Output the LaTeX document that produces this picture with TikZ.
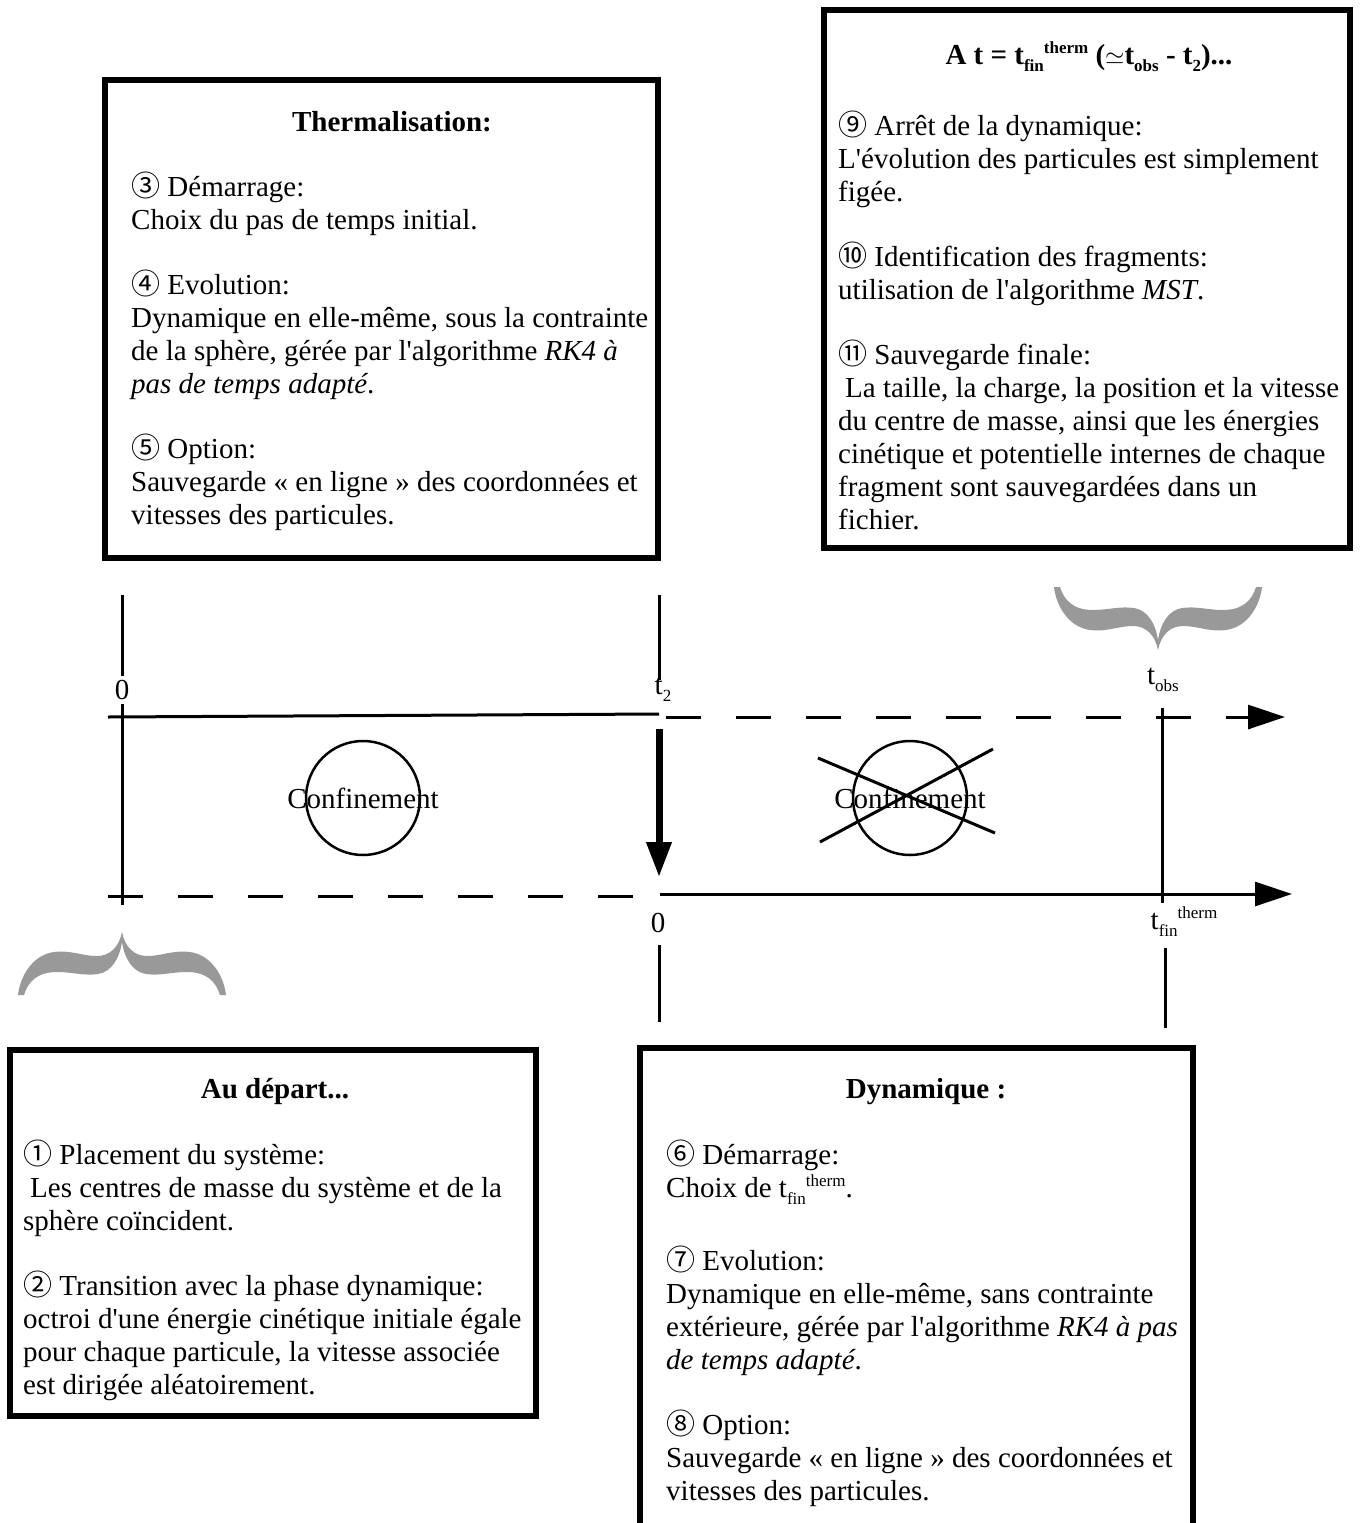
\documentclass[tikz,border=0pt]{standalone}
\usepackage{fontspec}
\setmainfont{Liberation Serif}[Ligatures=TeXOff]
\newfontfamily\cercle{Noto Sans CJK JP}
\usetikzlibrary{arrows.meta}

\newcommand{\etape}[1]{{\cercle #1}}
\newcommand{\indice}[1]{\raisebox{-7pt}{\fontsize{17}{17}\selectfont #1}}
\newcommand{\expo}[1]{\raisebox{11pt}{\fontsize{17}{17}\selectfont #1}}

\tikzset{
  cadre/.style={line width=6pt},
  titre/.style={anchor=base, inner sep=0pt, font=\bfseries\fontsize{29}{33}\selectfont},
  texte/.style={anchor=north west, inner sep=0pt, align=left, font=\fontsize{29}{33}\selectfont},
  etiquette/.style={inner sep=4pt, font=\fontsize{29}{33}\selectfont},
  axe/.style={line width=3pt},
  pointille/.style={axe, dash pattern=on 35pt off 35pt},
  fleche/.style={-{Triangle[length=37pt,width=24pt]}},
  accolade/.style={fill=black!40, draw=none}
}

\begin{document}
\begin{tikzpicture}[x=1pt,y=-1pt]

\useasboundingbox (0,0) rectangle (1362,1523);

% Cadres
\draw[cadre] (105,80) rectangle (658,558);
\draw[cadre] (824,10) rectangle (1350,548);
\draw[cadre] (10,1050) rectangle (536,1416);
\draw[cadre] (640,1048) rectangle (1193,1560);

% Thermalisation
\node[titre] (thermo) at (392,131) {Thermalisation:};
\node[texte] (thermo-txt) at (131,172) {\strut\etape{③} Démarrage:\\
Choix du pas de temps initial.\\[32pt]
\etape{④} Evolution:\\
Dynamique en elle-même, sous la contrainte\\
de la sphère, gérée par l'algorithme \textit{RK4 à}\\
\textit{pas de temps adapté}.\\[32pt]
\etape{⑤} Option:\\
Sauvegarde « en ligne » des coordonnées et\\
vitesses des particules.};

% Fin de la dynamique
\node[titre] (fin) at (1089,64) {A t = t\indice{fin}\expo{therm} ($\simeq$t\indice{obs} - t\indice{2})...};
\node[texte] (fin-txt) at (838,111) {\strut\etape{⑨} Arrêt de la dynamique:\\
L'évolution des particules est simplement\\
figée.\\[32pt]
\etape{⑩} Identification des fragments:\\
utilisation de l'algorithme \textit{MST}.\\[32pt]
\etape{⑪} Sauvegarde finale:\\
\hspace*{7pt}La taille, la charge, la position et la vitesse\\
du centre de masse, ainsi que les énergies\\
cinétique et potentielle internes de chaque\\
fragment sont sauvegardées dans un\\
fichier.};

% Au depart
\node[titre] (depart) at (275,1098) {Au départ...};
\node[texte] (depart-txt) at (23,1140) {\strut\etape{①} Placement du système:\\
\hspace*{7pt}Les centres de masse du système et de la\\
sphère coïncident.\\[32pt]
\etape{②} Transition avec la phase dynamique:\\
octroi d'une énergie cinétique initiale égale\\
pour chaque particule, la vitesse associée\\
est dirigée aléatoirement.};

% Dynamique
\node[titre] (dyna) at (926,1098) {Dynamique :};
\node[texte] (dyna-txt) at (666,1140) {\strut\etape{⑥} Démarrage:\\
Choix de t\indice{fin}\expo{therm}.\\[40pt]
\etape{⑦} Evolution:\\
Dynamique en elle-même, sans contrainte\\
extérieure, gérée par l'algorithme \textit{RK4 à pas}\\
\textit{de temps adapté}.\\[32pt]
\etape{⑧} Option:\\
Sauvegarde « en ligne » des coordonnées et\\
vitesses des particules.};

% Axes
\draw[axe] (108,717) -- (659,714);
\draw[pointille, fleche] (666,717) -- (1285,717);
\draw[pointille] (108,896) -- (656,896);
\draw[axe, fleche] (660,894) -- (1292,894);

% Reperes
\node[etiquette] (zero1) at (122,690) {0};
\draw[axe] (122,595) -- (zero1.north);
\draw[axe] (zero1.south) -- (122,905);

\node[etiquette] (t2) at (663,690) {t\indice{2}};
\draw[axe] (659,595) -- (659,680);
\draw[line width=7pt, -{Triangle[length=35pt,width=24pt]}] (659,729) -- (659,877);

\node[etiquette] (zero2) at (658,923) {0};
\draw[axe] (659,945) -- (659,1022);

\node[etiquette] (tobs) at (1163,680) {t\indice{obs}};
\draw[axe] (1162,708) -- (1162,903);

\node[etiquette] (tfin) at (1184,922) {t\indice{fin}\expo{therm}};
\draw[axe] (1165,948) -- (1165,1028);

% Confinement
\draw[axe, line width=2.5pt] (363,798) circle[radius=57];
\node[etiquette] (conf1) at (363,798) {Confinement};

\draw[axe, line width=2.5pt] (910,798) circle[radius=57];
\node[etiquette] (conf2) at (910,798) {Confinement};
\draw[axe] (818,758) -- (995,833);
\draw[axe] (820,842) -- (993,749);

% Accolades
\foreach \bx/\by/\bs in {122/932/1, 1158/650/-1}
{
\begin{scope}[shift={(\bx,\by)}, yscale=\bs]
\fill[accolade] (0,0)
.. controls (-3,15) and (-12,24) .. (-25,24)
.. controls (-40,24) and (-50,18) .. (-68,20)
.. controls (-90,23) and (-102,45) .. (-104,63)
-- (-98,63)
.. controls (-94,50) and (-85,40) .. (-65,40)
.. controls (-50,40) and (-38,44) .. (-24,42)
.. controls (-10,40) and (-2,25) .. (0,10)
.. controls (2,25) and (10,40) .. (24,42)
.. controls (38,44) and (50,40) .. (65,40)
.. controls (85,40) and (94,50) .. (98,63)
-- (104,63)
.. controls (102,45) and (90,23) .. (68,20)
.. controls (50,18) and (40,24) .. (25,24)
.. controls (12,24) and (3,15) .. (0,0) -- cycle;
\end{scope}
}

\end{tikzpicture}
\end{document}
